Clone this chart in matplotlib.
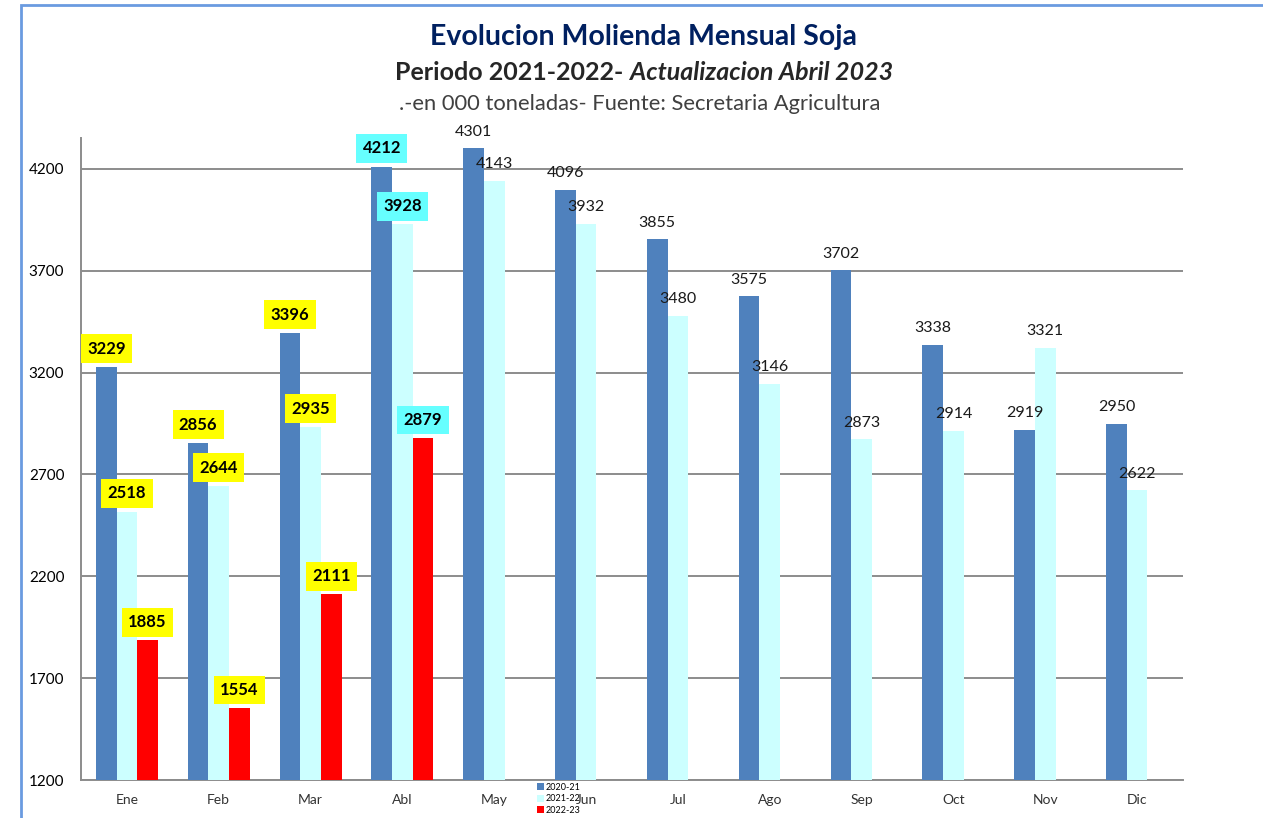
import matplotlib
matplotlib.use("Agg")
import matplotlib.pyplot as plt
from matplotlib.patches import Rectangle, Patch
import numpy as np

plt.rcParams['font.family'] = ['Lato', 'DejaVu Sans']

months = ["Ene", "Feb", "Mar", "Abl", "May", "Jun", "Jul", "Ago", "Sep", "Oct", "Nov", "Dic"]
series_names = ["2020-21", "2021-22", "2022-23"]
s2020 = [3229, 2856, 3396, 4212, 4301, 4096, 3855, 3575, 3702, 3338, 2919, 2950]
s2021 = [2518, 2644, 2935, 3928, 4143, 3932, 3480, 3146, 2873, 2914, 3321, 2622]
s2022 = [1885, 1554, 2111, 2879]
yticks = [1200, 1700, 2200, 2700, 3200, 3700, 4200]

colors = ["#4F81BD", "#CCFFFF", "#FF0000"]
W, H = 1263, 818
fig = plt.figure(figsize=(W / 100, H / 100), dpi=100)
ax = fig.add_axes([81 / W, 1 - 780 / H, (1183 - 81) / W, (780 - 138) / H])

x = np.arange(len(months))
bw = 0.225
offs = [-0.225, 0.0, 0.225]
all_series = [s2020, s2021, s2022]

def box_color(i):
    if i < 3:
        return "#FFFF00"
    if i == 3:
        return "#66FFFF"
    return None

for k, (vals, c, off) in enumerate(zip(all_series, colors, offs)):
    xs = x[:len(vals)] + off
    ax.bar(xs, np.array(vals) - 1200, bottom=1200, width=bw, color=c, zorder=3)
    for i, (xx, v) in enumerate(zip(xs, vals)):
        bc = box_color(i)
        if bc:
            ax.annotate(str(v), (xx, v), xytext=(0, 13), textcoords="offset points",
                        ha="center", va="center", fontsize=12, fontweight="bold",
                        color="black", zorder=5,
                        bbox=dict(boxstyle="square,pad=0.38", fc=bc, ec="none"))
        else:
            ax.annotate(str(v), (xx, v), xytext=(0, 12), textcoords="offset points",
                        ha="center", va="center", fontsize=11.5, color="#1a1a1a", zorder=5)

ax.set_xlim(-0.5, len(months) - 0.5)
ax.set_ylim(1200, 4352)
ax.set_yticks(yticks)
ax.set_yticklabels([str(t) for t in yticks], fontsize=11)
ax.set_xticks(x)
ax.set_xticklabels(months, fontsize=10, color="#333333")
ax.tick_params(axis="y", length=0, pad=12)
ax.tick_params(axis="x", length=0, pad=10)
ax.grid(axis="y", color="#8C8C8C", linewidth=1.4, zorder=0)
for s in ["top", "right"]:
    ax.spines[s].set_visible(False)
for s in ["left", "bottom"]:
    ax.spines[s].set_color("#8C8C8C")
    ax.spines[s].set_linewidth(1.4)

handles = [Patch(facecolor=c, edgecolor="none") for c in colors]
fig.legend(handles, series_names, loc="upper left",
           bbox_to_anchor=(537 / W, 1 - 783 / H), fontsize=6.5, frameon=False,
           handlelength=0.8, handleheight=0.8, handletextpad=0.2,
           labelspacing=0.25, borderpad=0, borderaxespad=0)

fig.text(643 / W, 1 - 37 / H, "Evolucion Molienda Mensual Soja", ha="center", va="center",
         fontsize=20.5, fontweight="bold", color="#002060")
t1 = "Periodo 2021-2022- "
t2 = "Actualizacion Abril 2023"
tA = fig.text(0, 1 - 73 / H, t1, ha="left", va="center", fontsize=18,
              fontweight="bold", color="#262626")
tB = fig.text(0, 1 - 73 / H, t2, ha="left", va="center", fontsize=18,
              fontweight="bold", fontstyle="italic", color="#262626")
fig.canvas.draw()
r = fig.canvas.get_renderer()
wA = tA.get_window_extent(r).width
wB = tB.get_window_extent(r).width
start = 644 - (wA + wB) / 2
tA.set_x(start / W)
tB.set_x((start + wA) / W)
fig.text(640 / W, 1 - 104 / H, ".-en 000 toneladas- Fuente: Secretaria Agricultura",
         ha="center", va="center", fontsize=15.8, color="#404040")

fig.add_artist(Rectangle((20.5 / W, -0.1), 2, 1.1 - 5.5 / H, transform=fig.transFigure,
                         fill=False, edgecolor="#6A9BE0", linewidth=2))

fig.savefig("out.png", dpi=100)
